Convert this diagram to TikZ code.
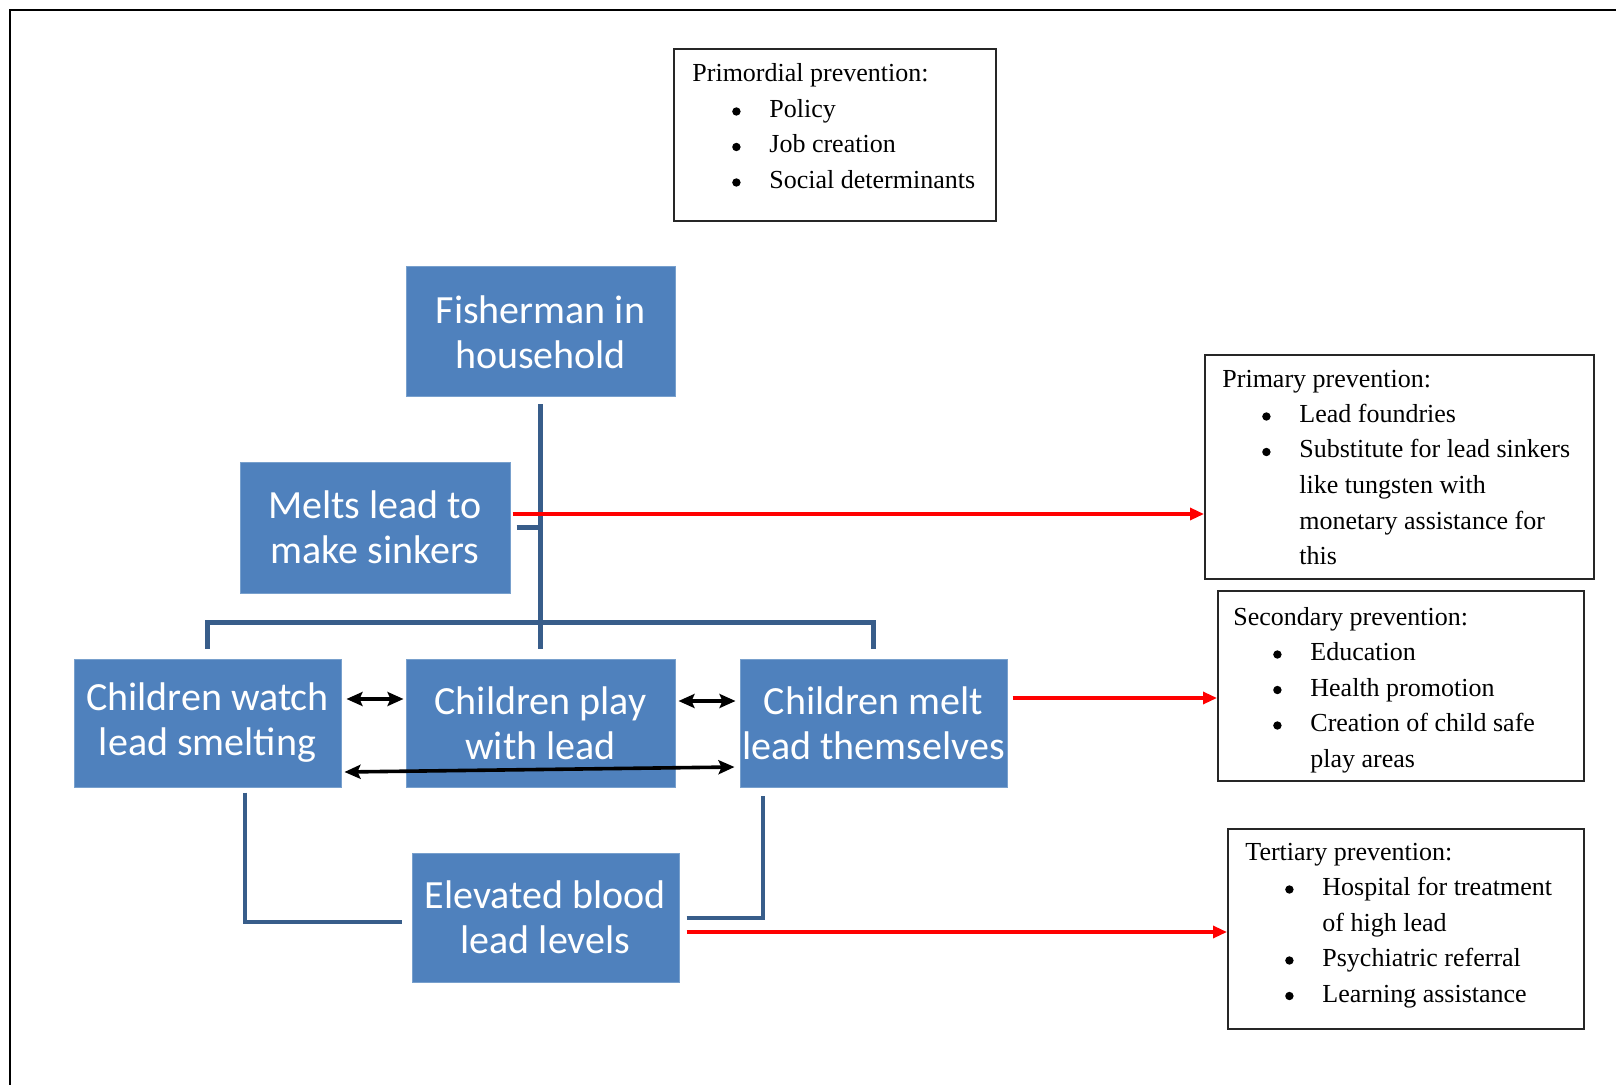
\documentclass[tikz,border=0pt]{standalone}
\usepackage{fontspec}
\setmainfont{Liberation Serif}
\newfontfamily\boxfont{Carlito}
\usetikzlibrary{calc,arrows.meta}

\definecolor{boxblue}{RGB}{79,129,189}
\definecolor{boxedge}{RGB}{120,160,205}
\definecolor{linkblue}{RGB}{56,93,138}

% bullet item and continuation indent for the prevention lists
\newcommand\bitem{\hspace*{19.9pt}\makebox[18.6pt][l]{\tikz[baseline=-3pt]\fill[black] (0pt,0pt) circle (2.1pt);}}
\newcommand\bcont{\hspace*{38.5pt}}

\begin{document}
\begin{tikzpicture}[x=0.5pt,y=-0.5pt,
  flowbox/.style={rectangle, fill=boxblue, draw=boxedge, line width=0.5pt,
    text=white, align=center, inner sep=0pt,
    font=\boxfont\fontsize{20}{22.5}\selectfont},
  infobox/.style={rectangle, draw=black!85, line width=1pt, anchor=north west, inner sep=0pt},
  listtext/.style={anchor=base west, inner sep=0pt, font=\fontsize{13}{17.75}\selectfont},
  link/.style={draw=linkblue, line width=2.2pt},
  redarrow/.style={draw=red, line width=1.6pt, -{Triangle[length=7pt,width=6pt]}},
  twoway/.style={draw=black, line width=1.8pt,
    {Stealth[length=8pt,width=7pt,inset=1.5pt]}-{Stealth[length=8pt,width=7pt,inset=1.5pt]}}
]
\useasboundingbox (0,0) rectangle (1616,1085);

% outer frame (top and left edges)
\draw[line width=1.2pt] (1620,10) -- (10,10) -- (10,1090);

% flow boxes
\node[flowbox, minimum width=134.5pt, minimum height=65pt] (fisher) at (540.5,332) {Fisherman in\\household};
\node[flowbox, minimum width=135pt, minimum height=65.5pt] (melts) at (375,527.5) {Melts lead to\\make sinkers};
\node[flowbox, minimum width=133.5pt, minimum height=64pt] (watch) at (207.5,723) {Children watch\\lead smelting};
\node[flowbox, minimum width=134.5pt, minimum height=64pt] (play) at (540.5,723) {Children play\\with lead};
\node[flowbox, minimum width=133.5pt, minimum height=64pt] (melt) at (873.5,723) {Children melt\\lead themselves};
\node[flowbox, minimum width=133.5pt, minimum height=64.5pt] (elevated) at (545.5,917.5) {Elevated blood\\lead levels};

% prevention boxes
\node[infobox, minimum width=161pt, minimum height=86pt] (primordial) at (673,48) {};
\node[infobox, minimum width=194.5pt, minimum height=112pt] (primary) at (1204,354) {};
\node[infobox, minimum width=183pt, minimum height=95pt] (secondary) at (1217,590) {};
\node[infobox, minimum width=178pt, minimum height=100pt] (tertiary) at (1227,828) {};

\node[listtext] (primordialtext) at ($(primordial.north west)+(19,34)$)
  {\begin{tabular}[t]{@{}l@{}}Primordial prevention:\\
   \bitem Policy\\
   \bitem Job creation\\
   \bitem Social determinants\end{tabular}};
\node[listtext] (primarytext) at ($(primary.north west)+(18,33)$)
  {\begin{tabular}[t]{@{}l@{}}Primary prevention:\\
   \bitem Lead foundries\\
   \bitem Substitute for lead sinkers\\
   \bcont like tungsten with\\
   \bcont monetary assistance for\\
   \bcont this\end{tabular}};
\node[listtext] (secondarytext) at ($(secondary.north west)+(16,35)$)
  {\begin{tabular}[t]{@{}l@{}}Secondary prevention:\\
   \bitem Education\\
   \bitem Health promotion\\
   \bitem Creation of child safe\\
   \bcont play areas\end{tabular}};
\node[listtext] (tertiarytext) at ($(tertiary.north west)+(18,32)$)
  {\begin{tabular}[t]{@{}l@{}}Tertiary prevention:\\
   \bitem Hospital for treatment\\
   \bcont of high lead\\
   \bitem Psychiatric referral\\
   \bitem Learning assistance\end{tabular}};

% tree connectors
\coordinate (hub) at ($(play.north)+(0,-36)$);
\draw[link] ([yshift=-3.5pt]fisher.south) -- ([yshift=5pt]play.north);
\draw[link] ([yshift=5pt]watch.north) -- (watch.north |- hub) -- (melt.north |- hub) -- ([yshift=5pt]melt.north);
\draw[link] ([xshift=3pt]melts.east) -- (fisher.south |- melts.east);
\draw[link] ($(watch.south)+(37.5,5)$) |- ($(elevated.west)+(-10,4.5)$);
\draw[link] ($(elevated.east)+(7,0.5)$) -| ($(melt.south)+(-110.5,8)$);

% links between the children boxes
\draw[twoway] ($(watch.east)+(5,-24)$) -- ($(play.west)+(-2,-24)$);
\draw[twoway] ($(play.east)+(3,-22)$) -- ($(melt.west)+(-4,-22)$);
\draw[twoway] ($(watch.east)+(3,49)$) -- ($(melt.west)+(-5,44)$);

% arrows to the prevention levels
\coordinate (r1) at ($(melts.east)+(2,-13.5)$);
\coordinate (r2) at ($(melt.east)+(5,-25)$);
\coordinate (r3) at ($(elevated.east)+(7,14.5)$);
\draw[redarrow] (r1) -- (r1 -| primary.west);
\draw[redarrow] (r2) -- (r2 -| secondary.west);
\draw[redarrow] (r3) -- (r3 -| tertiary.west);
\end{tikzpicture}
\end{document}
